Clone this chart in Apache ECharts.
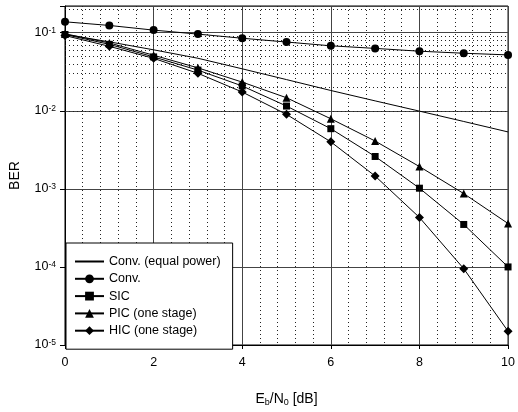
<!DOCTYPE html>
<html>
<head>
<meta charset="utf-8">
<script src="https://cdn.jsdelivr.net/npm/echarts@6/dist/echarts.min.js"></script>
<style>
html,body{margin:0;padding:0;background:#fff;}
#chart{width:518px;height:412px;}
</style>
</head>
<body>
<div id="chart"></div>
<script>
// ---- data ----
const ebn0 = [0, 1, 2, 3, 4, 5, 6, 7, 8, 9, 10];
const convEqualPower = [0.0952, 0.0764, 0.0604, 0.0471, 0.0345, 0.0251, 0.0182, 0.0134, 0.0099, 0.0073, 0.00536];
const conv = [0.138, 0.124, 0.108, 0.096, 0.085, 0.076, 0.068, 0.063, 0.058, 0.0546, 0.052];
const sic = [0.095, 0.071, 0.049, 0.0332, 0.0208, 0.0115, 0.0059, 0.0026, 0.00102, 0.00035, 0.0001];
const pic = [0.097, 0.074, 0.0515, 0.0355, 0.0233, 0.0147, 0.0079, 0.0041, 0.00193, 0.00087, 0.00036];
const hic = [0.092, 0.067, 0.047, 0.0302, 0.0174, 0.009, 0.004, 0.00146, 0.00043, 0.000095, 0.000015];
const seriesNames = ['Conv. (equal power)', 'Conv.', 'SIC', 'PIC (one stage)', 'HIC (one stage)'];
const xTicks = [0, 2, 4, 6, 8, 10];
const yDecades = [-5, -4, -3, -2, -1];

const FONT = "'Liberation Sans', Arial, sans-serif";
function pairs(vals) { return ebn0.map((x, i) => [x, vals[i]]); }

// minor log grid positions (2..9 x each decade) — gridlines only
const yMax = 0.22;
const minorY = [];
yDecades.forEach(d => { for (let m = 2; m <= 9; m++) { const v = m * Math.pow(10, d); if (v < yMax) minorY.push({ yAxis: v }); } });

const chart = echarts.init(document.getElementById('chart'), null, { renderer: 'canvas' });

function mk(name, vals, symbol, size, extra) {
  return Object.assign({
    name: name,
    type: 'line',
    data: pairs(vals),
    symbol: symbol,
    symbolSize: size,
    showSymbol: symbol !== 'none',
    lineStyle: { color: '#000', width: 1 },
    itemStyle: { color: '#000' },
    animation: false,
    z: 5
  }, extra || {});
}

const legendData = seriesNames.map((n, i) => i === 0
  ? { name: n, itemStyle: { color: 'rgba(0,0,0,0)', borderColor: 'rgba(0,0,0,0)', borderWidth: 0, opacity: 0 } }
  : { name: n });

const option = {
  backgroundColor: '#fff',
  animation: false,
  grid: { left: 63, right: 7, top: 6, bottom: 64, show: true, borderColor: '#000', borderWidth: 1, backgroundColor: 'transparent' },
  legend: {
    data: legendData,
    orient: 'vertical',
    left: 66,
    top: 243,
    padding: [12, 12, 12, 8],
    itemWidth: 29,
    itemHeight: 11,
    itemGap: 4.3,
    backgroundColor: '#fff',
    borderColor: '#000',
    borderWidth: 1,
    textStyle: { fontFamily: FONT, fontSize: 12.5, color: '#000', lineHeight: 13 }
  },
  xAxis: {
    type: 'value',
    min: 0, max: 10, interval: 2,
    axisLine: { show: true, lineStyle: { color: '#000', width: 1 } },
    axisTick: { show: true, length: 4, lineStyle: { color: '#000' } },
    axisLabel: { fontFamily: FONT, fontSize: 12.5, color: '#000', margin: 11,
      formatter: v => (xTicks.indexOf(v) >= 0 ? String(v) : '') },
    splitLine: { show: true, lineStyle: { color: '#444', width: 1 } },
    minorTick: { show: false, splitNumber: 5 },
    minorSplitLine: { show: true, lineStyle: { color: '#222', width: 1, type: [1, 3] } },
    name: '{n|E}{s|b}{n|/N}{s|0}{n| [dB]}',
    nameLocation: 'middle',
    nameGap: 46,
    nameTextStyle: {
      fontFamily: FONT, color: '#000',
      rich: {
        n: { fontFamily: FONT, fontSize: 14, color: '#000', lineHeight: 16 },
        s: { fontFamily: FONT, fontSize: 9, color: '#000', verticalAlign: 'bottom' }
      }
    }
  },
  yAxis: {
    type: 'log',
    logBase: 10,
    min: 1e-5, max: yMax,
    splitNumber: 5,
    axisLine: { show: true, lineStyle: { color: '#000', width: 1 } },
    axisTick: { show: true, length: 5, lineStyle: { color: '#000' } },
    axisLabel: {
      fontFamily: FONT, color: '#000', margin: 9,
      formatter: function (v) {
        const e = Math.round(Math.log10(v));
        if (Math.abs(Math.pow(10, e) - v) / v > 1e-6) return '';
        return '{b|10}{s|' + e + '}';
      },
      rich: {
        b: { fontFamily: FONT, fontSize: 12.5, color: '#000', lineHeight: 14 },
        s: { fontFamily: FONT, fontSize: 8.5, color: '#000', verticalAlign: 'top' }
      }
    },
    splitLine: { show: true, lineStyle: { color: '#444', width: 1 } },
    name: 'BER',
    nameLocation: 'middle',
    nameGap: 43,
    nameTextStyle: { fontFamily: FONT, fontSize: 14, color: '#000' }
  },
  series: [
    mk(seriesNames[0], convEqualPower, 'none', 0, {
      markLine: {
        silent: true,
        symbol: ['none', 'none'],
        label: { show: false },
        animation: false,
        lineStyle: { color: '#222', width: 1, type: [1, 3] },
        emphasis: { disabled: true },
        data: minorY,
        z: 1
      }
    }),
    mk(seriesNames[1], conv, 'circle', 8),
    mk(seriesNames[2], sic, 'rect', 7),
    mk(seriesNames[3], pic, 'triangle', 8),
    mk(seriesNames[4], hic, 'diamond', 9)
  ]
};
chart.setOption(option);
</script>
</body>
</html>
